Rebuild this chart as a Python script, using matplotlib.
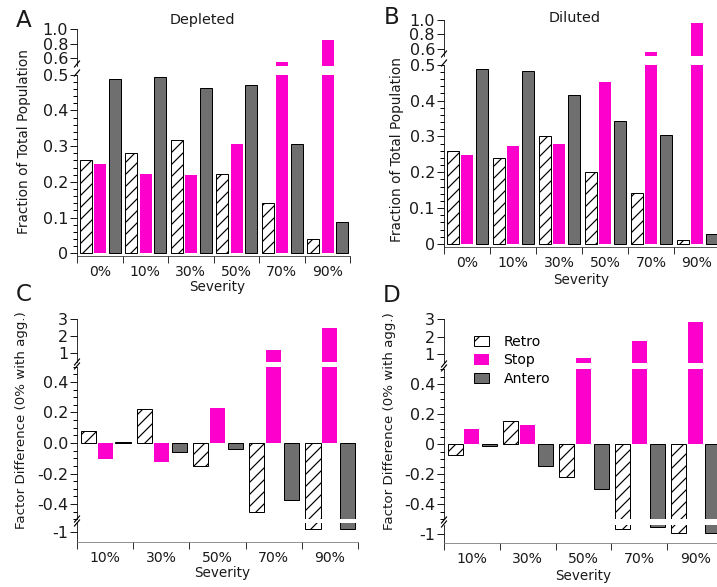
import numpy as np
import matplotlib
matplotlib.use('Agg')
import matplotlib.pyplot as plt
from matplotlib.lines import Line2D
from matplotlib.patches import Patch
from matplotlib.ticker import MultipleLocator

W, H = 717, 587
DPI = 72

# data
severity_ab = ['0%', '10%', '30%', '50%', '70%', '90%']
depleted_retro = [0.260, 0.282, 0.318, 0.222, 0.142, 0.041]
depleted_stop = [0.250, 0.223, 0.219, 0.307, 0.548, 0.857]
depleted_antero = [0.489, 0.494, 0.463, 0.472, 0.305, 0.088]
diluted_retro = [0.259, 0.241, 0.301, 0.202, 0.141, 0.010]
diluted_stop = [0.248, 0.274, 0.280, 0.451, 0.549, 0.954]
diluted_antero = [0.487, 0.482, 0.416, 0.344, 0.304, 0.029]

severity_cd = ['10%', '30%', '50%', '70%', '90%']
depl_diff_retro = [0.081, 0.220, -0.149, -0.453, -0.82]
depl_diff_stop = [-0.108, -0.127, 0.231, 1.20, 2.48]
depl_diff_antero = [0.004, -0.057, -0.037, -0.374, -0.82]
dil_diff_retro = [-0.070, 0.154, -0.222, -0.71, -0.94]
dil_diff_stop = [0.103, 0.125, 0.79, 1.78, 2.86]
dil_diff_antero = [-0.013, -0.149, -0.297, -0.62, -0.94]

MAGENTA = '#fe00cc'
GRAY = '#6f6f6f'
TXT = '#1a1a1a'

plt.rcParams['font.family'] = 'DejaVu Sans'
plt.rcParams['hatch.linewidth'] = 1.2

fig = plt.figure(figsize=(W / DPI, H / DPI), dpi=DPI)


def px_axes(left, top, right, bottom):
    return fig.add_axes([left / W, 1 - bottom / H, (right - left) / W, (bottom - top) / H])


def draw_bars(ax, retro, stop, antero, offsets, width):
    x = np.arange(len(retro)) + 0.5
    ax.bar(x + offsets[0], retro, width, facecolor='white', edgecolor='black', hatch='//', lw=1)
    ax.bar(x + offsets[1], stop, width, color=MAGENTA, lw=0)
    ax.bar(x + offsets[2], antero, width, facecolor=GRAY, edgecolor='black', lw=1)
    ax.set_xlim(0, len(retro))


def style(ax, ylim, yticks, ylabels, minor=None, xlabels=None, dotted=False):
    ax.set_ylim(*ylim)
    ax.patch.set_alpha(0)
    ax.spines['top'].set_visible(False)
    ax.spines['right'].set_visible(False)
    ax.set_yticks(yticks, ylabels)
    if minor:
        ax.yaxis.set_minor_locator(MultipleLocator(minor))
    ax.tick_params(axis='y', which='major', length=7, width=1, labelsize=16, pad=2, colors=TXT)
    ax.tick_params(axis='y', which='minor', length=4, width=1)
    if xlabels is None:
        ax.spines['bottom'].set_visible(False)
        ax.set_xticks([])
        return
    n = len(xlabels)
    ax.set_xticks(range(n + 1), [''] * (n + 1))
    ax.set_xticks(np.arange(n) + 0.5, xlabels, minor=True)
    ax.tick_params(axis='x', which='major', length=7, width=1, color='#333333')
    ax.tick_params(axis='x', which='minor', length=0, labelsize=14, pad=9, colors=TXT)
    if dotted:
        ax.spines['bottom'].set_linestyle((0, (1, 1)))
        ax.spines['bottom'].set_color('#777777')
    else:
        ax.spines['bottom'].set_color('#333333')


def brk(x, ys):
    for y in ys:
        fig.add_artist(Line2D([(x - 2.5) / W, (x + 2.5) / W], [1 - (y + 3) / H, 1 - (y - 3) / H],
                              transform=fig.transFigure, color='black', lw=1.2))


def ftext(x, y, s, **kw):
    fig.text(x / W, 1 - y / H, s, ha='center', va='center', color=TXT, **kw)


off_ab = [-0.31, 0.01, 0.33]
off_cd = [-0.30, 0.0, 0.32]

# panel A
a_top = px_axes(77, 29.3, 350, 65.7)
a_main = px_axes(77, 74.7, 350, 256)
for ax in (a_top, a_main):
    draw_bars(ax, depleted_retro, depleted_stop, depleted_antero, off_ab, 0.26)
style(a_top, (0.5, 1.0), [0.6, 0.8, 1.0], ['0.6', '0.8', '1.0'])
style(a_main, (-0.0076, 0.5), [0, 0.1, 0.2, 0.3, 0.4, 0.5], ['0', '0.1', '0.2', '0.3', '0.4', '0.5'],
      minor=0.02, xlabels=severity_ab)
brk(77, [64, 73])

# panel B
b_top = px_axes(444, 20, 720, 56)
b_main = px_axes(444, 64.7, 720, 246.7)
for ax in (b_top, b_main):
    draw_bars(ax, diluted_retro, diluted_stop, diluted_antero, off_ab, 0.26)
style(b_top, (0.5, 1.0), [0.6, 0.8, 1.0], ['0.6', '0.8', '1.0'])
style(b_main, (-0.0075, 0.5), [0, 0.1, 0.2, 0.3, 0.4, 0.5], ['0', '0.1', '0.2', '0.3', '0.4', '0.5'],
      minor=0.02, xlabels=severity_ab)
brk(444, [54, 63])

# panel C
c_top = px_axes(77, 318.7, 358, 361.7)
c_main = px_axes(77, 366.7, 358, 519.3)
c_low = px_axes(77, 523, 358, 542.3)
for ax in (c_top, c_main, c_low):
    draw_bars(ax, depl_diff_retro, depl_diff_stop, depl_diff_antero, off_cd, 0.27)
style(c_top, (0.5, 3.0), [1, 2, 3], ['1', '2', '3'])
style(c_main, (-0.5, 0.5), [-0.4, -0.2, 0, 0.2, 0.4], ['-0.4', '-0.2', '0.0', '0.2', '0.4'], minor=0.05)
style(c_low, (-1.6, -0.5), [-1], ['-1'], xlabels=severity_cd, dotted=True)
brk(77, [362, 366])
brk(77, [519, 523])

# panel D
d_top = px_axes(444, 319.3, 723, 363)
d_main = px_axes(444, 369, 723, 519)
d_low = px_axes(444, 525.3, 723, 542.7)
for ax in (d_top, d_main, d_low):
    draw_bars(ax, dil_diff_retro, dil_diff_stop, dil_diff_antero, off_cd, 0.27)
style(d_top, (0.5, 3.0), [1, 2, 3], ['1', '2', '3'])
style(d_main, (-0.5, 0.5), [-0.4, -0.2, 0, 0.2, 0.4], ['-0.4', '-0.2', '0', '0.2', '0.4'], minor=0.05)
style(d_low, (-1.5, -0.5), [-1], ['-1'], xlabels=severity_cd, dotted=True)
brk(444, [364, 368])
brk(444, [520, 524])

# texts
ftext(24, 20.5, 'A', fontsize=23)
ftext(392, 17.5, 'B', fontsize=23)
ftext(24, 295, 'C', fontsize=23)
ftext(392, 296, 'D', fontsize=23)
ftext(202.5, 20, 'Depleted', fontsize=14.4)
ftext(574.7, 18, 'Diluted', fontsize=14.4)
ftext(24, 142, 'Fraction of Total Population', fontsize=13.6, rotation=90)
ftext(397, 150, 'Fraction of Total Population', fontsize=13.6, rotation=90)
ftext(22, 420, 'Factor Difference (0% with agg.)', fontsize=13.4, rotation=90)
ftext(389, 421, 'Factor Difference (0% with agg.)', fontsize=13.4, rotation=90)
ftext(217, 287, 'Severity', fontsize=13.5)
ftext(581, 280, 'Severity', fontsize=13.5)
ftext(222, 573, 'Severity', fontsize=13.5)
ftext(583, 576, 'Severity', fontsize=13.5)

handles = [Patch(facecolor='white', edgecolor='black', hatch='/', lw=1),
           Patch(facecolor=MAGENTA, lw=0),
           Patch(facecolor=GRAY, edgecolor='black', lw=1)]
fig.legend(handles, ['Retro', 'Stop', 'Antero'], loc='upper left',
           bbox_to_anchor=(474 / W, 1 - 335 / H), frameon=False, fontsize=14,
           handlelength=1.1, handleheight=0.75, handletextpad=1.0, labelspacing=0.32,
           borderpad=0, borderaxespad=0)

fig.savefig('out.png', dpi=DPI)
